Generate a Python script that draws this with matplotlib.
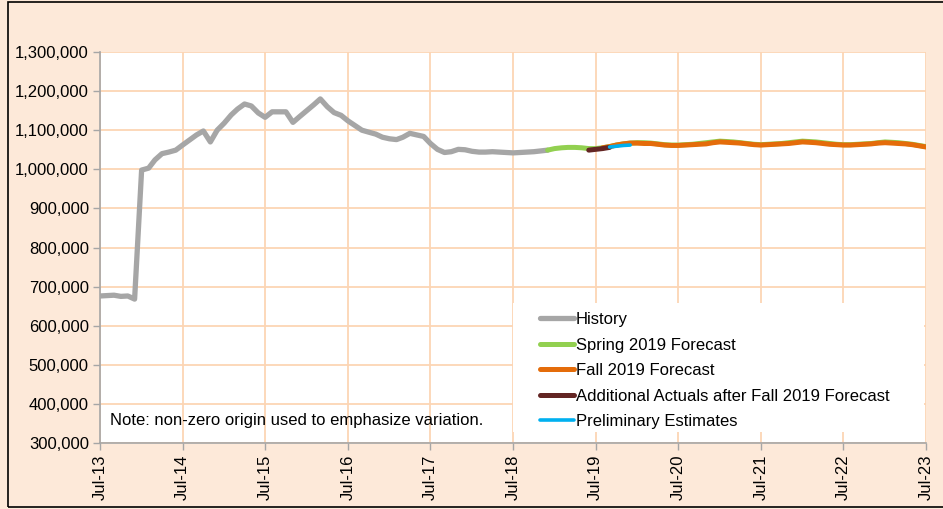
import numpy as np
import pandas as pd
import matplotlib
matplotlib.use("Agg")
import matplotlib.pyplot as plt
import matplotlib.dates as mdates
from matplotlib.patches import Rectangle
from matplotlib.ticker import FuncFormatter

plt.rcParams['font.family'] = ['Liberation Sans', 'DejaVu Sans']

# monthly series, Jul-13 .. Jul-23
months = pd.date_range('2013-07-01', '2023-07-01', freq='MS')

history = [676000, 677000, 678000, 675000, 676000, 668000, 998000, 1003000, 1024000, 1040000,
           1044000, 1049000, 1062000, 1075000, 1088000, 1098000, 1070000, 1100000, 1118000, 1139000,
           1154000, 1167000, 1162000, 1144000, 1133000, 1147000, 1147000, 1147000, 1120000, 1135000,
           1150000, 1165000, 1180000, 1160000, 1145000, 1138000, 1124000, 1112000, 1100000, 1095000,
           1090000, 1082000, 1078000, 1076000, 1082000, 1092000, 1088000, 1084000, 1066000, 1051000,
           1043000, 1045000, 1051000, 1050000, 1046000, 1044000, 1044000, 1045000, 1044000, 1043000,
           1042000, 1043000, 1044000, 1045000, 1047000, 1049000]

spring_2019 = [1049000, 1053000, 1055000, 1056000, 1056000, 1055000, 1053000, 1053000, 1055000, 1058000,
               1062000, 1065000, 1067000, 1068000, 1068000, 1067000, 1065000, 1063000, 1062000, 1062000,
               1063000, 1064000, 1066000, 1068000, 1070000, 1072000, 1071000, 1070000, 1068000, 1066000,
               1064000, 1063000, 1064000, 1065000, 1066000, 1068000, 1070000, 1072000, 1071000, 1070000,
               1068000, 1066000, 1064000, 1063000, 1063000, 1064000, 1065000, 1066000, 1068000, 1070000,
               1069000, 1068000, 1066000, 1064000, 1061000, 1058000]

fall_2019 = [1055000, 1058000, 1062000, 1065000, 1067000, 1067000, 1066000, 1066000, 1064000, 1062000,
             1061000, 1061000, 1062000, 1063000, 1064000, 1065000, 1068000, 1070000, 1069000, 1068000,
             1067000, 1065000, 1063000, 1062000, 1063000, 1064000, 1065000, 1066000, 1068000, 1070000,
             1069000, 1068000, 1066000, 1064000, 1063000, 1062000, 1062000, 1063000, 1064000, 1065000,
             1067000, 1068000, 1067000, 1066000, 1065000, 1063000, 1060000, 1057000]

additional_actuals = [1049000, 1051000, 1053000, 1056000]
preliminary = [1057000, 1059000, 1061000, 1062000]

hist_x = months[:len(history)]
spring_x = months[65:65 + len(spring_2019)]
fall_x = months[73:73 + len(fall_2019)]
actual_x = months[71:71 + len(additional_actuals)]
prelim_x = months[74:74 + len(preliminary)]

bg = '#FDE9D9'
grid_c = '#FCD5B4'

fig = plt.figure(figsize=(9.43, 5.09), dpi=100, facecolor=bg)
ax = fig.add_axes([100 / 943, 1 - 443 / 509, 826 / 943, 391 / 509])
ax.set_facecolor('white')

ax.plot(hist_x, history, color='#A6A6A6', lw=3.8, solid_capstyle='round', label='History')
ax.plot(spring_x, spring_2019, color='#92D050', lw=3.6, solid_capstyle='round', label='Spring 2019 Forecast')
ax.plot(fall_x, fall_2019, color='#E46C0A', lw=3.6, solid_capstyle='round', label='Fall 2019 Forecast')
ax.plot(actual_x, additional_actuals, color='#632523', lw=3.6, solid_capstyle='round',
        label='Additional Actuals after Fall 2019 Forecast')
ax.plot(prelim_x, preliminary, color='#00B0F0', lw=2.6, solid_capstyle='round', label='Preliminary Estimates')

ax.set_ylim(300000, 1300000)
ax.set_yticks(np.arange(300000, 1300001, 100000))
ax.yaxis.set_major_formatter(FuncFormatter(lambda v, p: f'{int(v):,}'))
ax.set_xlim(months[0], months[-1])
ax.xaxis.set_major_locator(mdates.MonthLocator(bymonth=7))
ax.xaxis.set_major_formatter(mdates.DateFormatter('%b-%y'))
plt.setp(ax.get_xticklabels(), rotation=90)

ax.grid(True, color=grid_c, lw=1.3)
ax.set_axisbelow(True)
for s in ['top', 'right']:
    ax.spines[s].set_visible(False)
for s in ['left', 'bottom']:
    ax.spines[s].set_color('#A6A6A6')
    ax.spines[s].set_linewidth(1.2)
ax.tick_params(axis='both', colors='#A6A6A6', labelcolor='black', labelsize=12, length=5, width=1)
ax.tick_params(axis='y', pad=3)

# white legend panel (covers gridlines) then the legend itself without frame
ax.add_patch(Rectangle((0.5, 0.028), 0.498, 0.33, transform=ax.transAxes,
                       facecolor='white', edgecolor='none', zorder=1.5))
leg = ax.legend(loc='upper left', bbox_to_anchor=(0.533, 0.335), frameon=False,
                fontsize=12, handlelength=2.0, handletextpad=0.15, labelspacing=0.63,
                borderpad=0.0, borderaxespad=0.0)
for line in leg.get_lines():
    line.set_solid_capstyle('round')

ax.text(0.012, 0.057, 'Note: non-zero origin used to emphasize variation.', transform=ax.transAxes,
        fontsize=12, va='center', ha='left')

# outer border of the chart area
fig.patches.append(Rectangle((8 / 943, 2 / 509), 1.2, 505 / 509, transform=fig.transFigure,
                             fill=False, edgecolor='black', lw=1.2))

fig.savefig('out.png', dpi=100, facecolor=bg)
